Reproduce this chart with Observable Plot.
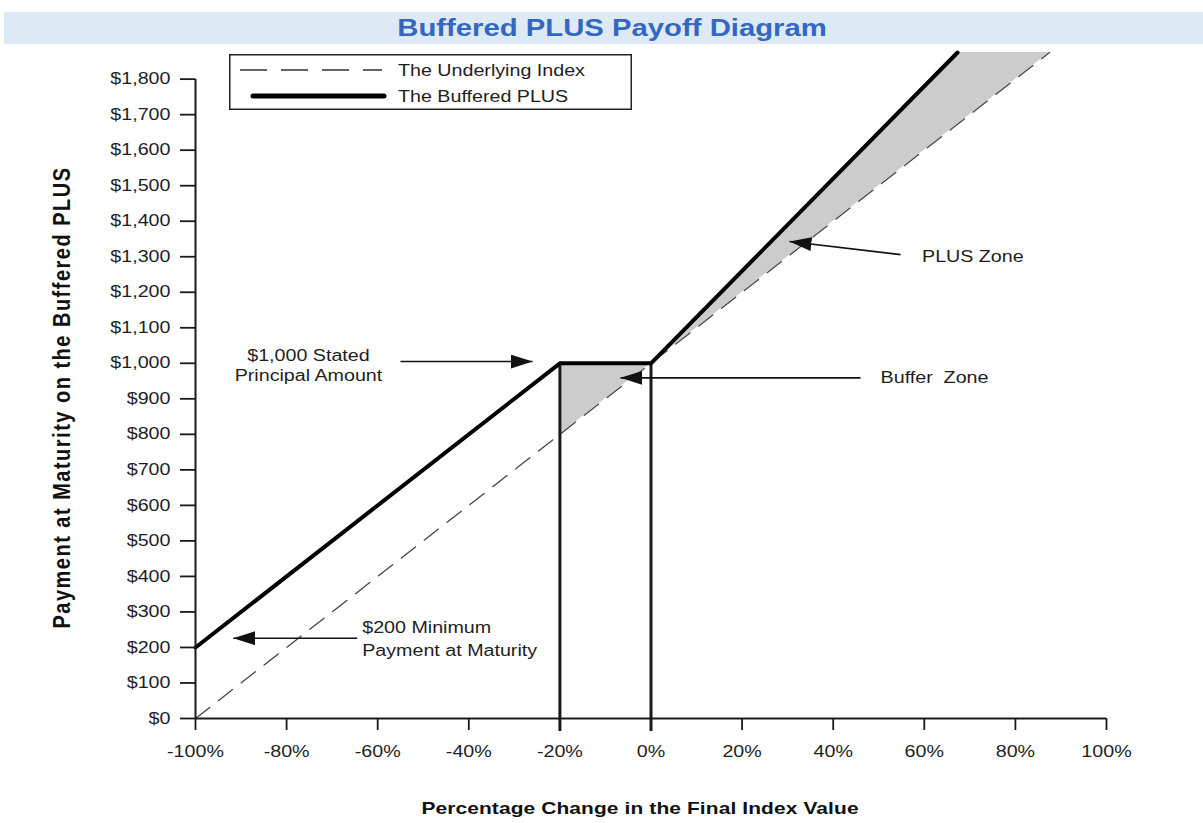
<!DOCTYPE html>
<html>
<head>
<meta charset="utf-8">
<script src="https://cdn.jsdelivr.net/npm/d3@7"></script>
<script src="https://cdn.jsdelivr.net/npm/@observablehq/plot@0.6"></script>
<style>
  body { margin: 0; background: #fff; font-family: "Liberation Sans", Arial, sans-serif; }
  #wrap { position: relative; width: 1203px; height: 823px; overflow: hidden; }
  #title { position: absolute; left: 4px; top: 12px; width: 1199px; height: 32px; background: #dde9f4; text-align: center; }
  #title span { display: inline-block; font-weight: bold; font-size: 24px; color: #3467c2; line-height: 32px; transform: scaleX(1.22); margin-left: 17px; }
  #chart { position: absolute; left: 0; top: 44px; }
  #chart svg { display: block; }
  #legend { position: absolute; left: 229px; top: 54px; }
</style>
</head>
<body>
<div id="wrap">
  <div id="title"><span id="titleText"></span></div>
  <div id="chart"></div>
  <svg id="legend" width="404" height="57"></svg>
</div>
<script>
// ---------- data ----------
const titleText = "Buffered PLUS Payoff Diagram";
const xTitle = "Percentage Change in the Final Index Value";
const yTitle = "Payment at Maturity on the Buffered PLUS";
const legendLabels = ["The Underlying Index", "The Buffered PLUS"];

const xTicks = [-100, -80, -60, -40, -20, 0, 20, 40, 60, 80, 100];
const xTickLabels = ["-100%", "-80%", "-60%", "-40%", "-20%", "0%", "20%", "40%", "60%", "80%", "100%"];
const yTicks = [0, 100, 200, 300, 400, 500, 600, 700, 800, 900, 1000, 1100, 1200, 1300, 1400, 1500, 1600, 1700, 1800];
const yTickLabels = ["$0", "$100", "$200", "$300", "$400", "$500", "$600", "$700", "$800", "$900", "$1,000", "$1,100", "$1,200", "$1,300", "$1,400", "$1,500", "$1,600", "$1,700", "$1,800"];

// underlying index (dashed)
const indexChange = [-100, 87.5];
const indexPayment = [0, 1875];
// buffered PLUS (solid)
const plusChange = [-100, -20, 0, 67.3];
const plusPayment = [200, 1000, 1000, 1875];
// shaded buffer zone
const bufferChange = [-20, 0];
const bufferLow = [800, 1000];
const bufferHigh = [1000, 1000];
// shaded PLUS zone
const plusZoneChange = [0, 67.3, 87.5];
const plusZoneLow = [1000, 1673, 1875];
const plusZoneHigh = [1000, 1875, 1875];
// vertical markers
const markerChange = [-20, 0];
const markerPayment = [1000, 1000];

// annotations
const noteTexts = ["$1,000 Stated\nPrincipal Amount", "Buffer\u00a0\u00a0Zone", "PLUS Zone", "$200 Minimum\nPayment at Maturity"];
const noteX = [-75.2, 50.4, 59.5, -63.4];
const noteY = [997, 958, 1301, 228];
const arrowFromX = [-55, 46.0, 54.8, -64.5];
const arrowFromY = [1005, 959, 1306, 226];
const arrowToX = [-26.0, -6.7, 30.4, -91.7];
const arrowToY = [1005, 959, 1343, 226];

// ---------- build ----------
const S = 1.23; // horizontal stretch of text as in the reference
document.getElementById("titleText").textContent = titleText;

const tbl = (xs, ...cols) => xs.map((x, i) => ({x, a: cols[0] ? cols[0][i] : undefined, b: cols[1] ? cols[1][i] : undefined}));
const indexData = tbl(indexChange, indexPayment);
const plusData = tbl(plusChange, plusPayment);
const bufferData = tbl(bufferChange, bufferLow, bufferHigh);
const plusZoneData = tbl(plusZoneChange, plusZoneLow, plusZoneHigh);
const markerData = tbl(markerChange, markerPayment);
const notes = noteTexts.map((t, i) => ({t, x: noteX[i], y: noteY[i]}));
const arrows = arrowFromX.map((x, i) => ({x1: x, y1: arrowFromY[i], x2: arrowToX[i], y2: arrowToY[i]}));
const xLab = new Map(xTicks.map((d, i) => [d, xTickLabels[i]]));
const yLab = new Map(yTicks.map((d, i) => [d, yTickLabels[i]]));

function arrowHead(color) {
  const m = d3.create("svg:marker")
    .attr("viewBox", "0 -7 22 14")
    .attr("markerWidth", 22).attr("markerHeight", 14)
    .attr("markerUnits", "userSpaceOnUse")
    .attr("refX", 22).attr("refY", 0)
    .attr("orient", "auto");
  m.append("path").attr("d", "M0,-7L22,0L0,7Z").attr("fill", color).attr("stroke", "none");
  return m.node();
}

const ink = "#1a1a1a";
const chart = Plot.plot({
  width: 1203,
  height: 779,
  marginTop: 8,
  marginBottom: 105,
  marginLeft: 195,
  marginRight: 97,
  style: {fontFamily: '"Liberation Sans", Arial, sans-serif', fontSize: "16px", color: "#222", background: "transparent", overflow: "visible"},
  x: {domain: [-100, 100]},
  y: {domain: [0, 1875]},
  marks: [
    Plot.areaY(bufferData, {x: "x", y1: "a", y2: "b", fill: "#cccccc"}),
    Plot.areaY(plusZoneData, {x: "x", y1: "a", y2: "b", fill: "#cccccc"}),
    Plot.line(indexData, {x: "x", y: "a", stroke: "#444", strokeWidth: 1.3, strokeDasharray: "18,11"}),
    Plot.ruleX(markerData, {x: "x", y1: 0, y2: "a", stroke: ink, strokeWidth: 3}),
    Plot.line(plusData, {x: "x", y: "a", stroke: "#000", strokeWidth: 4, strokeLinejoin: "miter"}),
    Plot.ruleY([0], {x1: -100, x2: 100, stroke: ink, strokeWidth: 2}),
    Plot.ruleX([-100], {y1: 0, y2: 1800, stroke: ink, strokeWidth: 2}),
    Plot.axisX(xTicks, {anchor: "bottom", tickSize: 12, tickPadding: 15, strokeWidth: 1.8, stroke: ink, tickFormat: d => xLab.get(d), label: null, fill: "#1e1e1e"}),
    Plot.axisX(markerChange, {anchor: "bottom", tickSize: 13, strokeWidth: 3, stroke: ink, tickFormat: () => "", label: null}),
    Plot.axisY(yTicks, {anchor: "left", tickSize: 15, tickPadding: 10, strokeWidth: 1.8, stroke: ink, tickFormat: d => yLab.get(d), label: null, fill: "#1e1e1e"}),
    Plot.link(arrows, {x1: "x1", y1: "y1", x2: "x2", y2: "y2", stroke: "#111", strokeWidth: 1.6, markerEnd: arrowHead}),
    Plot.text(notes.slice(0, 1), {x: "x", y: "y", text: "t", textAnchor: "middle", lineAnchor: "middle", lineHeight: 1.28, fill: "#1e1e1e"}),
    Plot.text(notes.slice(1, 3), {x: "x", y: "y", text: "t", textAnchor: "start", lineAnchor: "middle", fill: "#1e1e1e"}),
    Plot.text(notes.slice(3), {x: "x", y: "y", text: "t", textAnchor: "start", lineAnchor: "middle", lineHeight: 1.42, fill: "#1e1e1e"}),
    Plot.text([yTitle], {text: d => d, frameAnchor: "left", textAnchor: "middle", rotate: -90, dx: -133, dy: 12, fontWeight: "bold", fontSize: 20, fill: "#111"}),
    Plot.text([xTitle], {text: d => d, frameAnchor: "bottom", textAnchor: "middle", dx: -11, dy: 90, lineAnchor: "middle", fontWeight: "bold", fontSize: 17, fill: "#111"})
  ]
});

// stretch the text horizontally like the reference
chart.querySelectorAll("text").forEach(t => {
  let tr = t.getAttribute("transform");
  if (!tr) {
    tr = `translate(${t.getAttribute("x") || 0},${t.getAttribute("y") || 0})`;
    t.removeAttribute("x"); t.removeAttribute("y");
  }
  t.setAttribute("transform", tr + (tr.includes("rotate") ? ` scale(1,${S})` : ` scale(${S},1)`));
  if (t.textContent === yTitle) t.style.letterSpacing = "1.5px";
  if (t.textContent === xTitle) t.style.letterSpacing = "0.1px";
});
document.getElementById("chart").appendChild(chart);

// legend
const lg = d3.select("#legend");
lg.append("rect").attr("x", 0.75).attr("y", 0.75).attr("width", 401.5).attr("height", 54.5)
  .attr("fill", "#fff").attr("stroke", "#222").attr("stroke-width", 1.5);
lg.append("line").attr("x1", 11).attr("x2", 153).attr("y1", 16).attr("y2", 16)
  .attr("stroke", "#333").attr("stroke-width", 1.6).attr("stroke-dasharray", "27,14");
lg.append("line").attr("x1", 24).attr("x2", 155).attr("y1", 42).attr("y2", 42)
  .attr("stroke", "#000").attr("stroke-width", 5).attr("stroke-linecap", "round");
lg.selectAll("text").data(legendLabels).join("text")
  .attr("transform", (d, i) => `translate(169,${16 + i * 26}) scale(${S},1)`)
  .attr("dy", "0.35em")
  .attr("font-family", '"Liberation Sans", Arial, sans-serif')
  .attr("font-size", 16).attr("fill", "#1e1e1e")
  .text(d => d);
</script>
</body>
</html>
